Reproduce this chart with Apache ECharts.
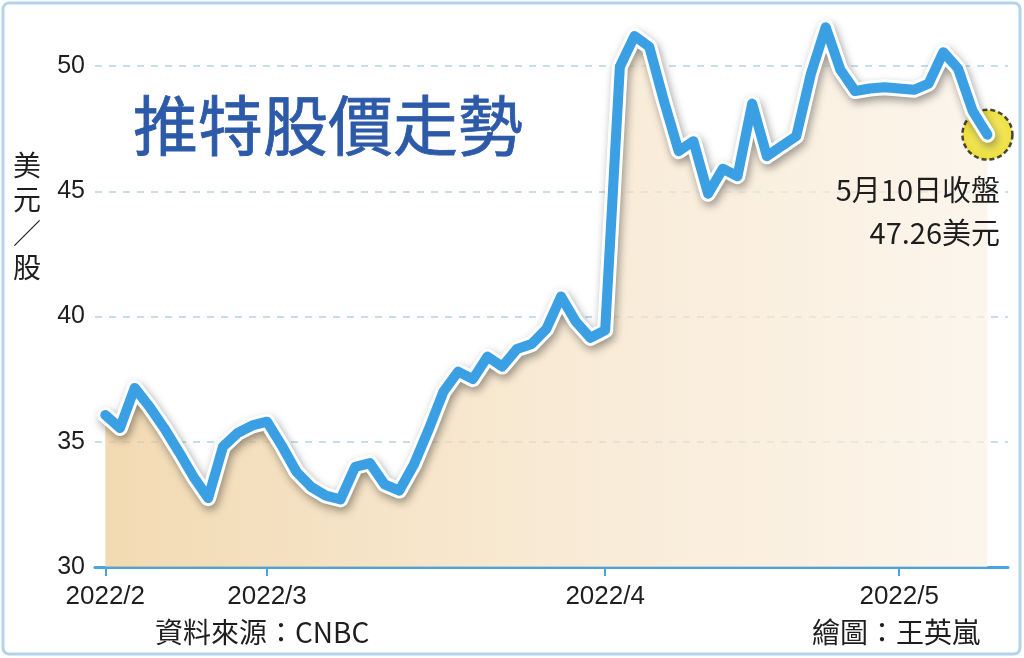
<!DOCTYPE html>
<html><head><meta charset="utf-8">
<script src="https://cdn.jsdelivr.net/npm/echarts@6/dist/echarts.min.js"></script>
<style>html,body{margin:0;padding:0;background:#fff}#c{width:1024px;height:658px}</style>
</head><body><div id="c"></div>
<script>
// trading days shown (M/D, 2022)
const dates = [
  '2/11','2/14','2/15','2/16','2/17','2/18','2/22','2/23','2/24','2/25','2/28',
  '3/1','3/2','3/3','3/4','3/7','3/8','3/9','3/10','3/11','3/14','3/15','3/16','3/17','3/18',
  '3/21','3/22','3/23','3/24','3/25','3/28','3/29','3/30','3/31',
  '4/1','4/4','4/5','4/6','4/7','4/8','4/11','4/12','4/13','4/14','4/18','4/19','4/20','4/21','4/22',
  '4/25','4/26','4/27','4/28','4/29',
  '5/2','5/3','5/4','5/5','5/6','5/9','5/10'
];
// closing price, USD per share
const prices = [
  36.07,35.55,37.15,36.4,35.55,34.6,33.6,32.75,34.8,35.35,35.65,
  35.8,34.85,33.8,33.2,32.85,32.7,34.0,34.15,33.3,33.05,34.1,35.5,37.0,37.8,
  37.5,38.4,38.0,38.7,38.9,39.5,40.8,39.8,39.15,
  39.45,49.97,51.2,50.77,48.6,46.6,47.0,44.9,45.9,45.6,48.5,46.4,46.8,47.2,49.7,
  51.55,49.85,49.0,49.1,49.15,
  49.1,49.05,49.3,50.55,49.9,48.2,47.26
];
const yTicks = [30, 35, 40, 45, 50];
const yearLabel = '2022';
const titleText = '推特股價走勢';
const yName = '美元／股';
const noteLines = ['5月10日收盤', '47.26美元'];
const sourceText = '資料來源：CNBC';
const creditText = '繪圖：王英嵐';

const monthStarts = [];
const monthLabels = {};
dates.forEach((d, i) => {
  const m = d.split('/')[0];
  if (i === 0 || m !== dates[i - 1].split('/')[0]) {
    monthStarts.push(i);
    monthLabels[i] = yearLabel + '/' + m;
  }
});
const seriesData = prices.map((v, i) => [i, v]);
const lastPoint = seriesData[seriesData.length - 1];

const CJK = '"Noto Sans CJK TC","Noto Sans CJK SC",sans-serif';
const NUM = '"Liberation Sans",Arial,sans-serif';

const chart = echarts.init(document.getElementById('c'), null, {renderer: 'canvas'});
chart.setOption({
  backgroundColor: '#ffffff',
  animation: false,
  grid: {left: 95, right: 16, top: 66, bottom: 91, containLabel: false},
  xAxis: {
    type: 'value',
    min: -0.7,
    max: dates.length + 0.4,
    axisLine: {show: true, lineStyle: {color: '#4ba3dc', width: 3}},
    axisTick: {show: true, customValues: monthStarts, length: 9, lineStyle: {color: '#4ba3dc', width: 2}},
    axisLabel: {
      customValues: monthStarts,
      formatter: v => monthLabels[v] || '',
      color: '#1e1e1e', fontSize: 26, fontFamily: NUM, margin: 17
    },
    splitLine: {show: false}
  },
  yAxis: {
    type: 'value',
    min: yTicks[0],
    max: yTicks[yTicks.length - 1],
    interval: 5,
    axisLine: {show: false},
    axisTick: {show: false},
    axisLabel: {color: '#1e1e1e', fontSize: 25, fontFamily: NUM, margin: 10},
    splitLine: {show: true, lineStyle: {color: '#b7d2e6', width: 1.5, type: [7, 7]}}
  },
  series: [
    {
      type: 'line', data: seriesData, symbol: 'none', clip: false, z: 1,
      lineStyle: {width: 0, opacity: 0},
      areaStyle: {
        origin: 'start',
        color: {type: 'linear', x: 0, y: 0, x2: 1, y2: 0, colorStops: [
          {offset: 0, color: '#ecca92'},
          {offset: 0.5, color: '#f5e1c2'},
          {offset: 1, color: '#fbf1e4'}
        ]}
      }
    },
    {
      type: 'scatter', data: [lastPoint], symbol: 'circle', symbolSize: 50, z: 2, clip: false,
      itemStyle: {
        color: {type: 'radial', x: 0.5, y: 0.5, r: 0.5, colorStops: [
          {offset: 0, color: '#faf250'}, {offset: 1, color: '#e8d510'}
        ]},
        borderColor: '#1a1a1a', borderWidth: 2.5, borderType: [5, 3]
      }
    },
    {
      type: 'line', data: seriesData, symbol: 'none', clip: false, z: 3,
      lineStyle: {width: 16, color: '#ffffff', join: 'round', cap: 'round',
        shadowColor: 'rgba(0,0,0,0.38)', shadowBlur: 9, shadowOffsetX: 2, shadowOffsetY: 4}
    },
    {
      type: 'line', data: seriesData, symbol: 'none', clip: false, z: 4,
      lineStyle: {width: 10, color: '#3b9fe4', join: 'round', cap: 'round'}
    }
  ],
  graphic: [
    {type: 'rect', shape: {x: 3, y: 3, width: 1017, height: 651, r: 6}, z: -10,
      style: {fill: 'none', stroke: '#b3d3ea', lineWidth: 3}},
    {type: 'text', x: 133, y: 125, z: 20,
      style: {text: titleText, fontSize: 65, fontWeight: 'normal', fontFamily: CJK, fill: '#2d5aa8',
        stroke: '#2d5aa8', lineWidth: 0.8, textAlign: 'left', textVerticalAlign: 'middle'}},
    {type: 'text', x: 27, y: 148, z: 20,
      style: {text: yName.split('').join('\n'), fontSize: 28, lineHeight: 34, fontFamily: CJK, fill: '#1e1e1e',
        textAlign: 'center', textVerticalAlign: 'top'}},
    {type: 'text', x: 1000, y: 190, z: 20,
      style: {text: noteLines[0], fontSize: 29, fontFamily: CJK, fill: '#1e1e1e', textAlign: 'right', textVerticalAlign: 'middle'}},
    {type: 'text', x: 1000, y: 233, z: 20,
      style: {text: noteLines[1], fontSize: 29, fontFamily: CJK, fill: '#1e1e1e', textAlign: 'right', textVerticalAlign: 'middle'}},
    {type: 'text', x: 155, y: 632, z: 20,
      style: {text: sourceText, fontSize: 28, fontFamily: CJK, fill: '#1e1e1e', textAlign: 'left', textVerticalAlign: 'middle'}},
    {type: 'text', x: 980, y: 632, z: 20,
      style: {text: creditText, fontSize: 28, fontFamily: CJK, fill: '#1e1e1e', textAlign: 'right', textVerticalAlign: 'middle'}}
  ]
});
</script>
</body></html>
